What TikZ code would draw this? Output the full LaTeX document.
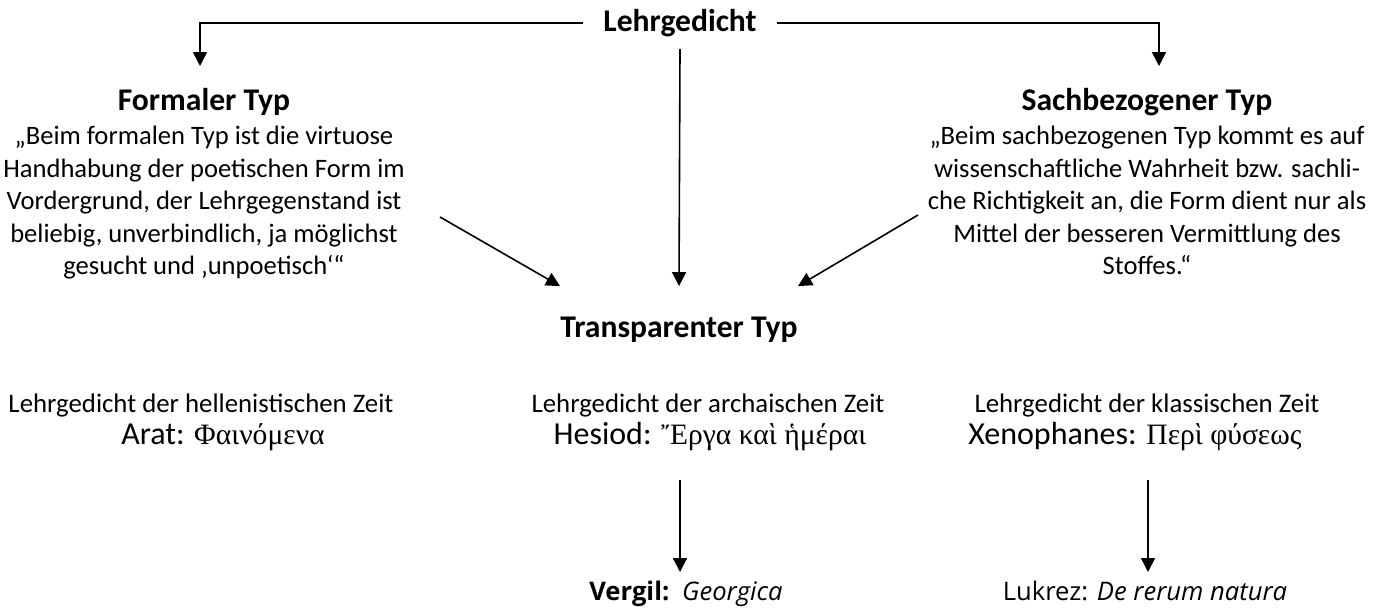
\documentclass[tikz,border=0pt]{standalone}
\usepackage{fontspec}
\setmainfont{Carlito}
\newfontfamily\grk{Liberation Serif}
\newfontfamily\osans{Open Sans}
\usetikzlibrary{arrows.meta}
\begin{document}
\begin{tikzpicture}[x=0.5pt,y=-0.5pt,
  hd/.style={font=\fontsize{15.8}{18}\selectfont\bfseries, inner sep=0pt},
  para/.style={font=\fontsize{13.3}{16.25}\selectfont, align=center, inner sep=0pt, anchor=north},
  era/.style={font=\fontsize{13.4}{16}\selectfont, inner sep=0pt, anchor=base},
  work/.style={font=\fontsize{16}{19}\selectfont, inner sep=0pt, anchor=base},
  poet/.style={font=\osans\fontsize{12.8}{15}\selectfont, inner sep=0pt, anchor=base},
  arr/.style={line width=0.8pt, -{Triangle[length=7pt,width=7pt]}},
]
\useasboundingbox (0,0) rectangle (1385,611);
\fill[white] (0,0) rectangle (1385,611);

% headings
\node[hd, inner xsep=10pt, inner ysep=6pt] (lg) at (680,23) {Lehrgedicht};
\node[hd, anchor=base] (ft) at (204,110) {Formaler Typ};
\node[hd, anchor=base] (st) at (1147,110) {Sachbezogener Typ};
\node[para] (ftp) at (204,126) {„Beim formalen Typ ist die virtuose\\Handhabung der poetischen Form im\\Vordergrund, der Lehrgegenstand ist\\beliebig, unverbindlich, ja möglichst\\gesucht und ‚unpoetisch‘“};
\node[para] (stp) at (1147,126) {„Beim sachbezogenen Typ kommt es auf\\wissenschaftliche Wahrheit bzw. sachli-\\che Richtigkeit an, die Form dient nur als\\Mittel der besseren Vermittlung des\\Stoffes.“};
\node[hd, anchor=base, inner xsep=0pt, inner ysep=15pt] (tt) at (679,337) {Transparenter Typ};

% periods
\node[era] (e1) at (201,412) {Lehrgedicht der hellenistischen Zeit};
\node[work] (w1) at (223,444) {Arat: {\grk\fontsize{14.8}{17}\selectfont Φαινόμενα}};
\node[era] (e2) at (708,412) {Lehrgedicht der archaischen Zeit};
\node[work] (w2) at (710,444) {Hesiod: {\grk\fontsize{14.8}{17}\selectfont Ἔργα καὶ ἡμέραι}};
\node[era] (e3) at (1147,412) {Lehrgedicht der klassischen Zeit};
\node[work] (w3) at (1135,444) {Xenophanes: {\grk\fontsize{14.8}{17}\selectfont Περὶ φύσεως}};

% later poets
\node[poet] (vg) at (686,600) {\textbf{Vergil:}\hspace{0.5em}\textit{Georgica}};
\node[poet] (lk) at (1145,600) {Lukrez: \textit{De rerum natura}};

% connector ends
\coordinate (ftin) at (200,66);
\coordinate (stin) at (1159,66);
\coordinate (fs) at (440,217);
\coordinate (ss) at (918,215);
\coordinate (a1s) at (680,480);
\coordinate (a1e) at (680,572);
\coordinate (a2s) at (1148,480);
\coordinate (a2e) at (1148,572);

\draw[arr] (lg.west) -| (ftin);
\draw[arr] (lg.east) -| (stin);
\draw[arr] (lg.south) -- (tt.north);
\draw[arr] (fs) -- (tt.north west);
\draw[arr] (ss) -- (tt.north east);
\draw[arr] (a1s) -- (a1e);
\draw[arr] (a2s) -- (a2e);
\end{tikzpicture}
\end{document}
